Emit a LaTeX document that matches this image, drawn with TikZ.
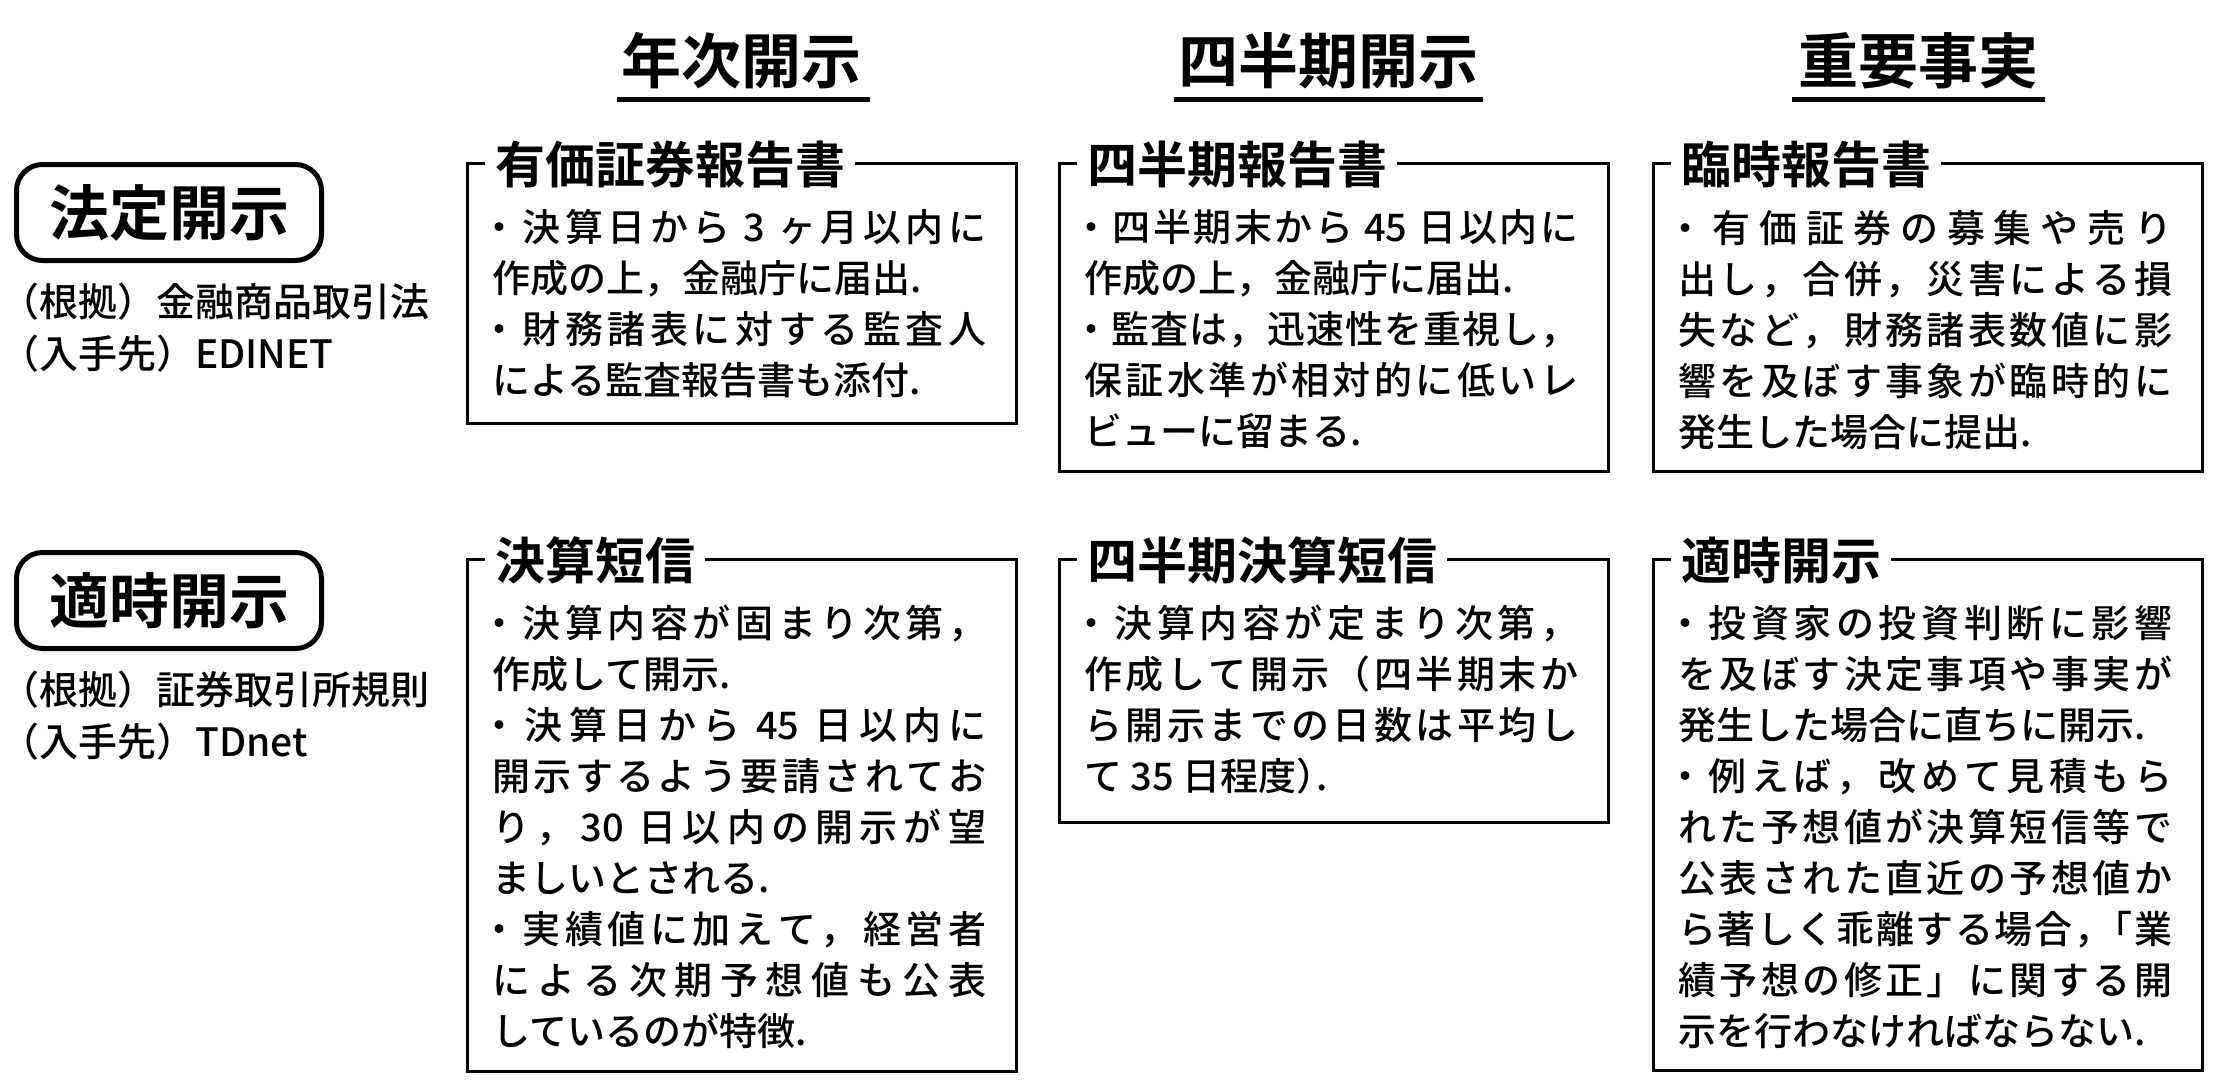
\documentclass[tikz,border=0pt]{standalone}
\usepackage{fontspec}
\setmainfont{Noto Sans CJK JP}[UprightFont={* Medium},BoldFont={* Bold}]
\usetikzlibrary{calc}
\makeatletter
\newlength\linew
\setlength\linew{494pt}
\newcommand\jl[1]{\hbox to \linew{\let\jsep\relax\@tfor\jc:=#1\do{\jsep\jc\let\jsep\hfil}}}
\newcommand\rl[1]{\hbox{#1}}
\newcommand\bul{\hbox to 26pt{\kern-12pt ・\hss}}
\newcommand\bodytext[1]{\vtop{\baselineskip=51pt\lineskiplimit=-200pt\lineskip=0pt #1}}
\makeatother
\begin{document}
\begin{tikzpicture}[x=1pt,y=-1pt,
  frame/.style={draw=black, line width=2.8pt, inner sep=0pt, anchor=north west, minimum width=549pt},
  ttl/.style={fill=white, inner xsep=10pt, inner ysep=0pt, anchor=west, font=\fontsize{50pt}{50pt}\selectfont\bfseries},
  body/.style={inner sep=0pt, anchor=base west, font=\fontsize{38pt}{51pt}\selectfont},
  hdr/.style={inner sep=0pt, font=\fontsize{60pt}{60pt}\selectfont\bfseries},
  lbl/.style={draw, line width=5pt, rounded corners=26pt, minimum width=305pt, minimum height=96pt, inner sep=0pt, font=\fontsize{60pt}{60pt}\selectfont\bfseries},
  src/.style={inner sep=0pt, anchor=base west, font=\fontsize{39pt}{39pt}\selectfont},
  uline/.style={line width=5pt}]
\useasboundingbox (0,0) rectangle (2236,1088);

% column headers
\node[hdr] (h1) at (741,61) {年次開示};
\node[hdr] (h2) at (1328,61) {四半期開示};
\node[hdr] (h3) at (1918,61) {重要事実};
\draw[uline] (617,99) -- (870,99);
\draw[uline] (1174,99) -- (1483,99);
\draw[uline] (1792,99) -- (2045,99);

% row labels
\node[lbl] (hotei) at (169,212.5) {法定開示};
\node[src] (hs1) at (0,316) {（根拠）金融商品取引法};
\node[src] (hs2) at (0,368) {（入手先）EDINET};
\node[lbl] (tekiji) at (169,600.5) {適時開示};
\node[src] (ts1) at (0,704) {（根拠）証券取引所規則};
\node[src] (ts2) at (0,756) {（入手先）TDnet};

% boxes row 1
\node[frame, minimum height=260pt] (b1) at (466,162) {};
\node[frame, minimum height=308pt] (b2) at (1058,162) {};
\node[frame, minimum height=308pt] (b3) at (1652,162) {};
% boxes row 2
\node[frame, minimum height=512pt] (b4) at (466,558) {};
\node[frame, minimum height=263pt] (b5) at (1058,558) {};
\node[frame, minimum height=511pt] (b6) at (1652,558) {};

% titles
\node[ttl] (t1) at ($(b1.north west)+(19,2)$) {有価証券報告書};
\node[ttl] (t2) at ($(b2.north west)+(19,2)$) {四半期報告書};
\node[ttl] (t3) at ($(b3.north west)+(19,2)$) {臨時報告書};
\node[ttl] (t4) at ($(b4.north west)+(19,2)$) {決算短信};
\node[ttl] (t5) at ($(b5.north west)+(19,2)$) {四半期決算短信};
\node[ttl] (t6) at ($(b6.north west)+(19,2)$) {適時開示};

% body texts
\node[body] (x1) at ($(b1.north west)+(26,79)$) {\bodytext{%
\jl{\bul 決算日から{ 3 }ヶ月以内に}
\rl{作成の上，金融庁に届出.}
\jl{\bul 財務諸表に対する監査人}
\rl{による監査報告書も添付.}}};

\node[body] (x2) at ($(b2.north west)+(26,79)$) {\bodytext{%
\jl{\bul 四半期末から{ 45 }日以内に}
\rl{作成の上，金融庁に届出.}
\jl{\bul 監査は，迅速性を重視し，}
\jl{保証水準が相対的に低いレ}
\rl{ビューに留まる.}}};

\node[body] (x3) at ($(b3.north west)+(26,80)$) {\bodytext{%
\jl{\bul 有価証券の募集や売り}
\jl{出し，合併，災害による損}
\jl{失など，財務諸表数値に影}
\jl{響を及ぼす事象が臨時的に}
\rl{発生した場合に提出.}}};

\node[body] (x4) at ($(b4.north west)+(26,79)$) {\bodytext{%
\jl{\bul 決算内容が固まり次第，}
\rl{作成して開示.}
\jl{\bul 決算日から{ 45 }日以内に}
\jl{開示するよう要請されてお}
\jl{り，{30 }日以内の開示が望}
\rl{ましいとされる.}
\jl{\bul 実績値に加えて，経営者}
\jl{による次期予想値も公表}
\rl{しているのが特徴.}}};

\node[body] (x5) at ($(b5.north west)+(26,79)$) {\bodytext{%
\jl{\bul 決算内容が定まり次第，}
\jl{作成して開示（四半期末か}
\jl{ら開示までの日数は平均し}
\rl{て 35 日程度{\makebox[20pt][l]{）}}.}}};

\node[body] (x6) at ($(b6.north west)+(26,79)$) {\bodytext{%
\jl{\bul 投資家の投資判断に影響}
\jl{を及ぼす決定事項や事実が}
\rl{発生した場合に直ちに開示.}
\jl{\bul 例えば，改めて見積もら}
\jl{れた予想値が決算短信等で}
\jl{公表された直近の予想値か}
\jl{ら著しく乖離する場合{\makebox[19pt][l]{，}}「業}
\jl{績予想の修正」に関する開}
\rl{示を行わなければならない.}}};
\end{tikzpicture}
\end{document}
